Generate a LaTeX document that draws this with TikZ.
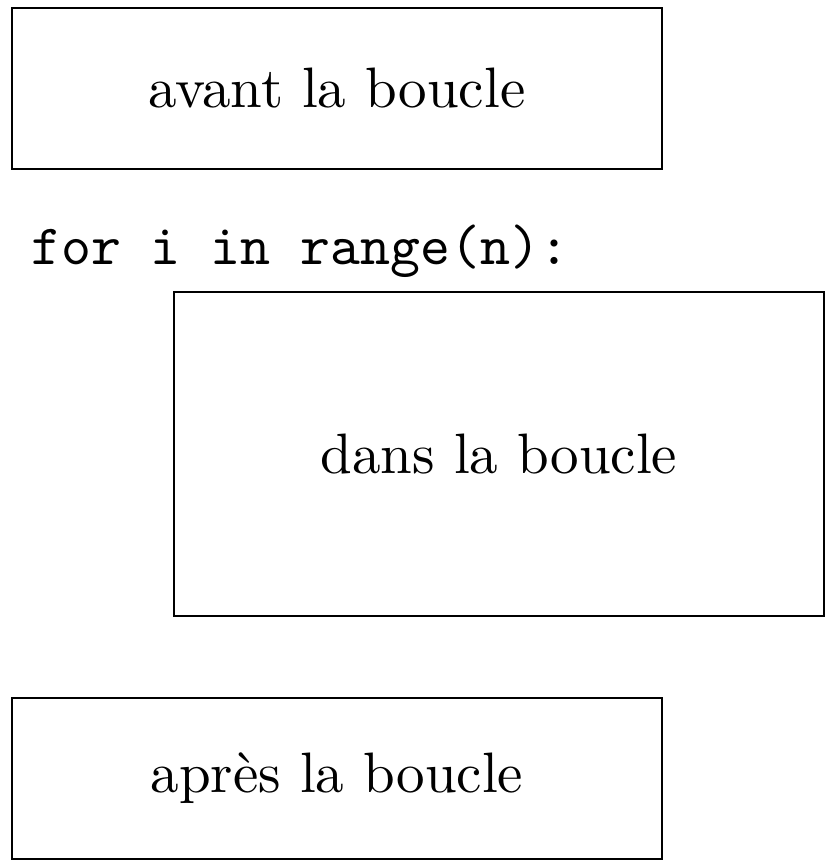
\documentclass[tikz,border=0pt]{standalone}
\usepackage{fontspec}
\setmainfont{lmroman10-regular.otf}[BoldFont=lmroman10-bold.otf,ItalicFont=lmroman10-italic.otf]
\setmonofont{lmmono10-regular.otf}
\begin{document}
\begin{tikzpicture}[x=1pt,y=-1pt,
  blockbox/.style={draw=black,line width=2pt,inner sep=0pt,anchor=north west},
  lbl/.style={font=\fontsize{57}{61}\selectfont,inner sep=0pt},
  code/.style={font=\fontsize{57}{61}\selectfont\ttfamily,inner sep=0pt,anchor=base west}]
\useasboundingbox (0,0) rectangle (834,866);
\node[blockbox,minimum width=650pt,minimum height=161pt] (avant) at (11,7) {};
\node[lbl] (tavant) at (avant.center) {avant la boucle};
\node[code] (for) at (31,265) {for i in range(n):};
\node[blockbox,minimum width=650pt,minimum height=324pt] (dans) at (173,291) {};
\node[lbl] (tdans) at (dans.center) {dans la boucle};
\node[blockbox,minimum width=650pt,minimum height=161pt] (apres) at (11,697) {};
\node[lbl] (tapres) at (apres.center) {après la boucle};
\end{tikzpicture}
\end{document}
